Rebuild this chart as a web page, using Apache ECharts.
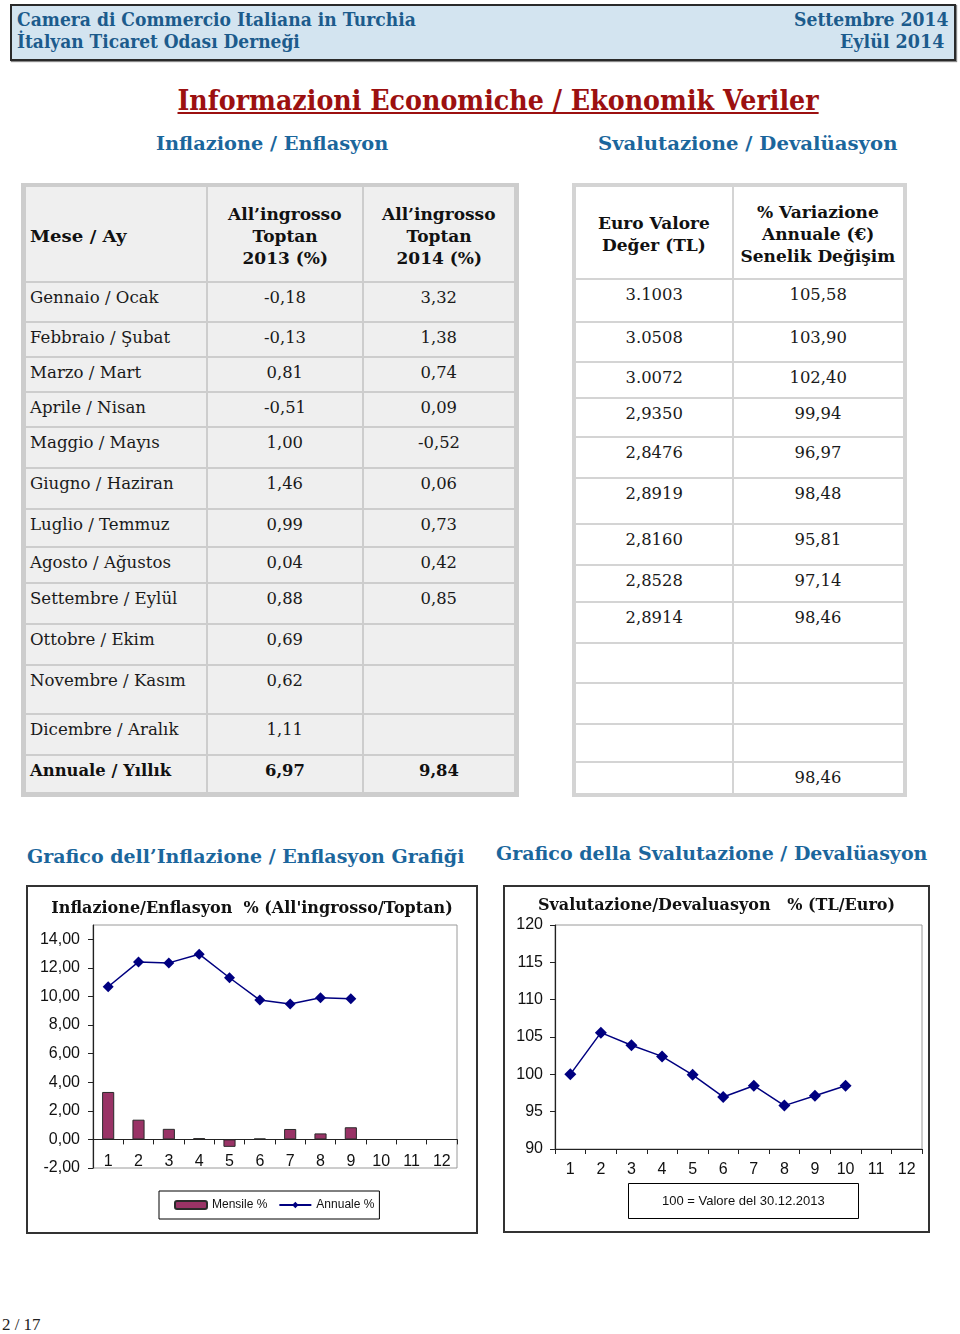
<!DOCTYPE html>
<html><head><meta charset="utf-8">
<script src="https://cdn.jsdelivr.net/npm/echarts@6/dist/echarts.min.js"></script>
<style>
html,body{margin:0;padding:0;background:#fff;}
body{width:960px;height:1334px;position:relative;overflow:hidden;}
.t{position:absolute;white-space:nowrap;line-height:normal;}
.box{position:absolute;box-sizing:border-box;}
</style></head>
<body>
<script>
// ---------- DATA ----------
const months = ['Gennaio / Ocak','Febbraio / Şubat','Marzo / Mart','Aprile / Nisan','Maggio / Mayıs','Giugno / Haziran','Luglio / Temmuz','Agosto / Ağustos','Settembre / Eylül','Ottobre / Ekim','Novembre / Kasım','Dicembre / Aralık'];
const wholesale2013 = [-0.18,-0.13,0.81,-0.51,1.00,1.46,0.99,0.04,0.88,0.69,0.62,1.11];
const wholesale2014 = [3.32,1.38,0.74,0.09,-0.52,0.06,0.73,0.42,0.85];
const yearly2013 = 6.97;
const yearly2014 = 9.84;
const euroTL = ['3.1003','3.0508','3.0072','2,9350','2,8476','2,8919','2,8160','2,8528','2,8914'];
const euroChange = [105.58,103.90,102.40,99.94,96.97,98.48,95.81,97.14,98.46];
const euroChangeYear = 98.46;
const chartMonths = ['1','2','3','4','5','6','7','8','9','10','11','12'];
const annualInflation = [10.68,12.42,12.35,12.96,11.31,9.75,9.47,9.91,9.84];
const devaluationIndex = [100,105.58,103.90,102.40,99.94,96.97,98.48,95.81,97.14,98.46];
const inflationTicks = [-2,0,2,4,6,8,10,12,14];

const fmt = v => v.toFixed(2).replace('.', ',');
const SERIF = '"DejaVu Serif", serif';
const SANS = '"Liberation Sans", Arial, sans-serif';

// ---------- helpers ----------
function put(str, o){
  const el = document.createElement('div');
  el.className = 't';
  el.textContent = str;
  el.style.font = (o.weight||'normal') + ' ' + o.size + 'px ' + (o.family||SERIF);
  el.style.color = o.color || '#1a1a1a';
  if (o.underline) el.style.textDecoration = 'underline';
  document.body.appendChild(el);
  const w = el.offsetWidth;
  const s = o.w ? o.w / w : 1;
  let left, origin;
  if (o.x != null){ left = o.x; origin = 'left center'; }
  else if (o.cx != null){ left = o.cx - w/2; origin = 'center center'; }
  else { left = o.rx - w; origin = 'right center'; }
  el.style.left = left + 'px';
  el.style.top = (o.y - o.size*0.6) + 'px';
  if (s !== 1){ el.style.transform = 'scaleX(' + s + ')'; el.style.transformOrigin = origin; }
  return el;
}
function rect(x, y, w, h, css){
  const d = document.createElement('div');
  d.className = 'box';
  d.style.left = x+'px'; d.style.top = y+'px'; d.style.width = w+'px'; d.style.height = h+'px';
  Object.assign(d.style, css||{});
  document.body.appendChild(d);
  return d;
}

// ---------- header ----------
rect(10, 4, 946, 57, {background:'#d3e4f0', border:'2px solid #2a2a2a', boxShadow:'1px 1px 1px #888'});
const HC = '#1c5b8c';
put('Camera di Commercio Italiana in Turchia', {x:17, y:20, size:18, weight:'bold', color:HC, w:399});
put('İtalyan Ticaret Odası Derneği', {x:17, y:42, size:18, weight:'bold', color:HC, w:283});
put('Settembre 2014', {rx:948, y:20, size:18, weight:'bold', color:HC, w:154});
put('Eylül 2014', {rx:944, y:42, size:18, weight:'bold', color:HC, w:104});

put('Informazioni Economiche / Ekonomik Veriler', {cx:498, y:101, size:27, weight:'bold', color:'#9c1010', w:641, underline:true});
const SC = '#1b669c';
put('Inflazione / Enflasyon', {x:156, y:143, size:19, weight:'bold', color:SC, w:232});
put('Svalutazione  / Devalüasyon', {x:598, y:143, size:19, weight:'bold', color:SC, w:299});

// ---------- left table ----------
const lCols = [25, 207, 363, 515];
const lRows = [186, 282, 322, 357, 392, 427, 468, 509, 547, 583, 624, 665, 714, 755, 793];
rect(21, 183, 498, 614, {background:'#cdcdcd'});
for (let r = 0; r < lRows.length-1; r++){
  for (let c = 0; c < lCols.length-1; c++){
    rect(lCols[c]+1, lRows[r]+1, lCols[c+1]-lCols[c]-2, lRows[r+1]-lRows[r]-2, {background:'#efefef'});
  }
}
put('Mese / Ay', {x:30, y:236, size:17, weight:'bold', color:'#111', w:96});
['All’ingrosso','Toptan','2013 (%)'].forEach((s,i)=>put(s,{cx:285, y:214+22*i, size:17, weight:'bold', color:'#111'}));
['All’ingrosso','Toptan','2014 (%)'].forEach((s,i)=>put(s,{cx:439, y:214+22*i, size:17, weight:'bold', color:'#111'}));
months.forEach((m,i)=>{
  const y = lRows[i+1] + 16;
  put(m, {x:30, y:y, size:16.6});
  put(fmt(wholesale2013[i]), {cx:285, y:y, size:16.4});
  if (i < wholesale2014.length) put(fmt(wholesale2014[i]), {cx:439, y:y, size:16.4});
});
{
  const y = lRows[13] + 16;
  put('Annuale / Yıllık', {x:30, y:y, size:16.4, weight:'bold', color:'#111'});
  put(fmt(yearly2013), {cx:285, y:y, size:16.4, weight:'bold', color:'#111'});
  put(fmt(yearly2014), {cx:439, y:y, size:16.4, weight:'bold', color:'#111'});
}

// ---------- right table ----------
const rCols = [575, 733, 904];
const rRows = [186, 279, 322, 362, 398, 437, 478, 524, 565, 602, 643, 683, 724, 762, 794];
rect(572, 183, 335, 614, {background:'#d4d4d4'});
for (let r = 0; r < rRows.length-1; r++){
  for (let c = 0; c < rCols.length-1; c++){
    rect(rCols[c]+1, rRows[r]+1, rCols[c+1]-rCols[c]-2, rRows[r+1]-rRows[r]-2, {background:'#ffffff'});
  }
}
['Euro Valore','Değer (TL)'].forEach((s,i)=>put(s,{cx:654, y:223+22*i, size:17, weight:'bold', color:'#111'}));
['% Variazione','Annuale (€)','Senelik Değişim'].forEach((s,i)=>put(s,{cx:818, y:212+22*i, size:17, weight:'bold', color:'#111'}));
euroTL.forEach((v,i)=>{
  const y = rRows[i+1] + 16;
  put(v, {cx:654, y:y, size:16.4});
  put(fmt(euroChange[i]), {cx:818, y:y, size:16.4});
});
put(fmt(euroChangeYear), {cx:818, y:rRows[13]+16, size:16.4});

// ---------- section titles ----------
put('Grafico dell’Inflazione / Enflasyon Grafiği', {x:27, y:856, size:19, weight:'bold', color:SC, w:437});
put('Grafico della Svalutazione / Devalüasyon', {x:496, y:853, size:19, weight:'bold', color:SC, w:431});

put('2 / 17', {x:2, y:1326, size:16, family:'"Liberation Serif", serif', color:'#222', w:38});

// ---------- chart boxes ----------
rect(26, 885, 452, 349, {border:'2px solid #333', background:'#fff'});
rect(503, 885, 427, 348, {border:'2px solid #333', background:'#fff'});
const c1div = rect(28, 887, 448, 345, {});
const c2div = rect(505, 887, 423, 344, {});

const axisTxt = {fontFamily:SANS, fontSize:16, color:'#111'};

const chart1 = echarts.init(c1div, null, {renderer:'canvas'});
chart1.setOption({
  animation:false,
  title:{text:'Inflazione/Enflasyon  % (All\'ingrosso/Toptan)', left:'center', top:9,
    textStyle:{fontFamily:SERIF, fontWeight:'bold', fontSize:16, color:'#111'}},
  legend:{left:131, top:304, orient:'horizontal', padding:[8,5,8,15], itemGap:11,
    itemWidth:32, itemHeight:8, borderColor:'#000', borderWidth:1,
    textStyle:{fontFamily:SANS, fontSize:12, color:'#111'}},
  grid:{left:65, right:19, top:38, bottom:64, show:true, borderColor:'#9a9a9a', borderWidth:1, containLabel:false},
  xAxis:{type:'category', data:chartMonths, boundaryGap:true,
    axisLine:{show:true, onZero:true, lineStyle:{color:'#222', width:1.2}},
    axisTick:{show:true, length:5, lineStyle:{color:'#222'}},
    axisLabel:Object.assign({margin:-14, interval:0}, axisTxt),
    splitLine:{show:false}},
  yAxis:{type:'value', min:-2, max:15, interval:2,
    axisLine:{show:true, lineStyle:{color:'#222', width:1.2}},
    axisTick:{show:true, length:5, customValues:inflationTicks, lineStyle:{color:'#222'}},
    axisLabel:Object.assign({margin:13, customValues:inflationTicks, formatter:v=>fmt(v)}, axisTxt),
    splitLine:{show:false}},
  series:[
    {name:'Mensile %', type:'bar', data:wholesale2014, barWidth:'40%',
      itemStyle:{color:'#993366', borderColor:'#2a2a2a', borderWidth:1}},
    {name:'Annuale %', type:'line', data:annualInflation, symbol:'diamond', symbolSize:11,
      lineStyle:{color:'#000080', width:1.5}, itemStyle:{color:'#000080'}}
  ]
});

const chart2 = echarts.init(c2div, null, {renderer:'canvas'});
chart2.setOption({
  animation:false,
  title:[
    {text:'Svalutazione/Devaluasyon   % (TL/Euro)', left:'center', top:6,
      textStyle:{fontFamily:SERIF, fontWeight:'bold', fontSize:16, color:'#111'}},
    {text:'100 = Valore del 30.12.2013', left:123, top:296, padding:[12,34,11,34],
      borderColor:'#000', borderWidth:1,
      textStyle:{fontFamily:SANS, fontWeight:'normal', fontSize:13, color:'#111'}}
  ],
  grid:{left:50, right:6, top:38, bottom:82, show:true, borderColor:'#9a9a9a', borderWidth:1},
  xAxis:{type:'category', data:chartMonths, boundaryGap:true,
    axisLine:{show:true, lineStyle:{color:'#222', width:1.2}},
    axisTick:{show:true, length:5, lineStyle:{color:'#222'}},
    axisLabel:Object.assign({margin:13, interval:0}, axisTxt),
    splitLine:{show:false}},
  yAxis:{type:'value', min:90, max:120, interval:5,
    axisLine:{show:true, lineStyle:{color:'#222', width:1.2}},
    axisTick:{show:true, length:5, lineStyle:{color:'#222'}},
    axisLabel:Object.assign({margin:12}, axisTxt),
    splitLine:{show:false}},
  series:[
    {name:'Svalutazione', type:'line', data:devaluationIndex, symbol:'diamond', symbolSize:12,
      lineStyle:{color:'#000080', width:1.5}, itemStyle:{color:'#000080'}}
  ]
});
</script>
</body></html>
